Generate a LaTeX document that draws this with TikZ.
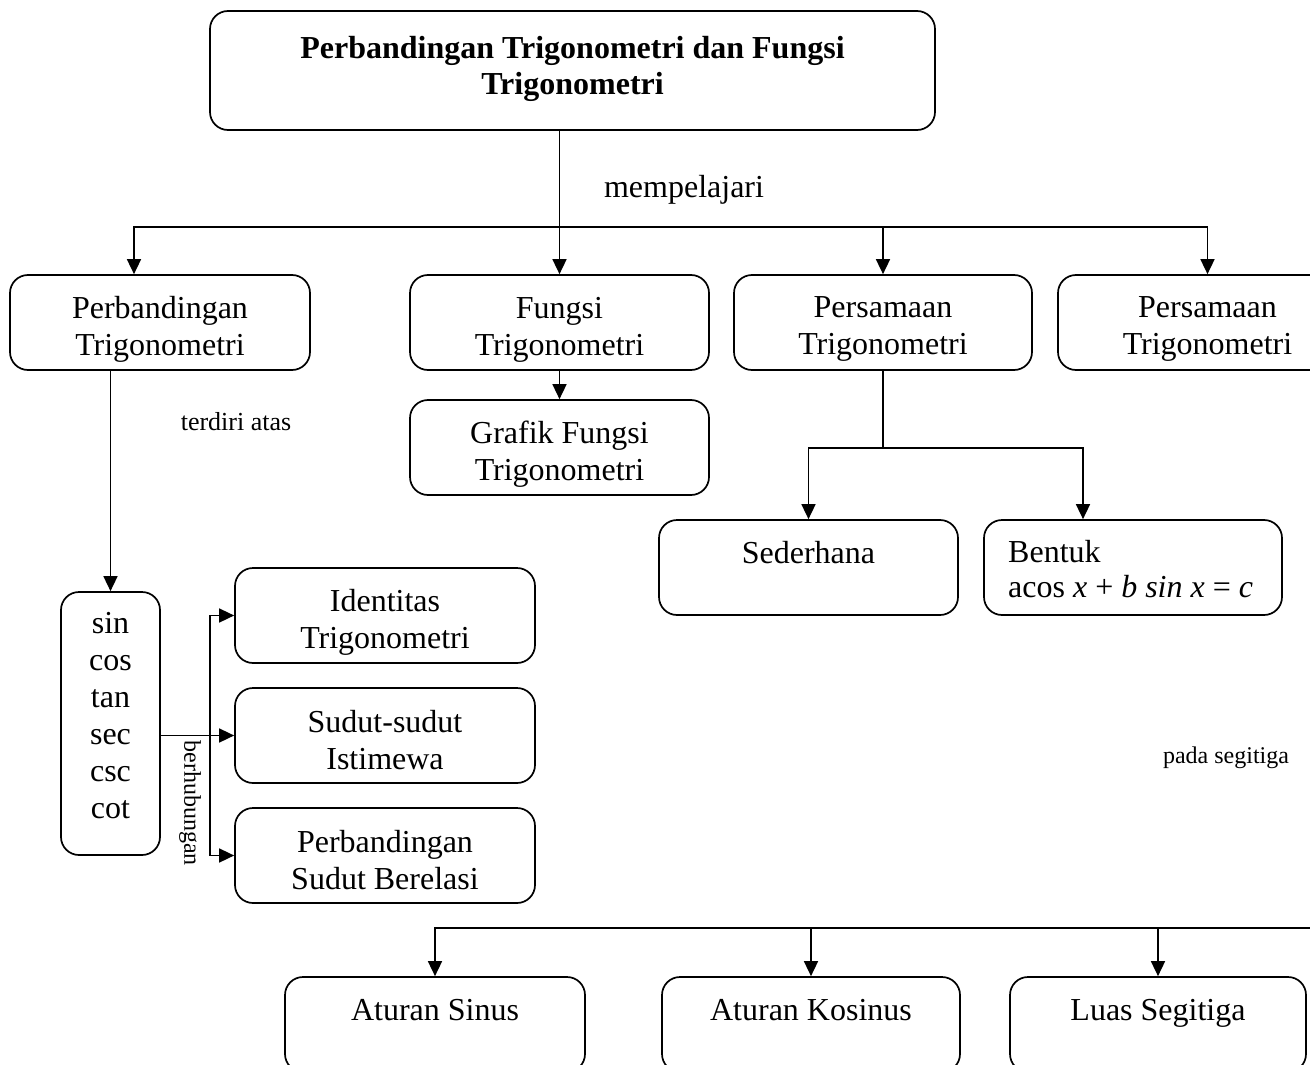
\documentclass[tikz,border=0pt]{standalone}
\usepackage{fontspec}
\setmainfont{Liberation Serif}
\usetikzlibrary{arrows.meta}
\begin{document}
\begin{tikzpicture}[x=1pt,y=-1pt,
  box/.style={draw, line width=1.7pt, rounded corners=18pt, inner sep=0pt},
  cbox/.style={box, minimum width=299pt, minimum height=95pt},
  txt/.style={font=\fontsize{32pt}{37pt}\selectfont, align=center, inner sep=0pt},
  txtone/.style={txt, text height=22pt, text depth=7pt},
  lbl/.style={font=\fontsize{24pt}{28pt}\selectfont, inner sep=0pt},
  conn/.style={line width=1.6pt},
  arr/.style={conn, -{Triangle[width=14pt,length=15pt]}},
]
\useasboundingbox (0,0) rectangle (1310,1065);
\clip (0,0) rectangle (1310,1065);
\fill[white] (0,0) rectangle (1310,1065);

% title
\node[box, minimum width=725pt, minimum height=119pt] (title) at (572.5,70.5) {};
\node[txt, font=\bfseries\fontsize{32pt}{36pt}\selectfont] (titlet) at ([yshift=1.5pt]title.center) {Perbandingan Trigonometri dan Fungsi\\Trigonometri};
\node[txt] (mp) at (684,190) {mempelajari};

% row 2
\node[cbox, minimum width=300pt] (pt) at (160,322.5) {};
\node[txt] (ptt) at ([yshift=-6.5pt]pt.center) {Perbandingan\\Trigonometri};
\node[cbox] (fun) at (559.5,322.5) {};
\node[txt] (funt) at ([yshift=-7.5pt]fun.center) {Fungsi\\Trigonometri};
\node[cbox, minimum width=298pt] (pq1) at (883,322.5) {};
\node[txt] (pq1t) at ([yshift=-6.5pt]pq1.center) {Persamaan\\Trigonometri};
\node[cbox] (pq2) at (1207.5,322.5) {};
\node[txt] (pq2t) at ([yshift=-6.5pt]pq2.center) {Persamaan\\Trigonometri};

% grafik
\node[cbox] (gr) at (559.5,447.5) {};
\node[txt] (grt) at ([yshift=-6.5pt]gr.center) {Grafik Fungsi\\Trigonometri};

\node[lbl, font=\fontsize{26pt}{30pt}\selectfont] (terd) at (236,422) {terdiri atas};

% sin box
\node[box, minimum width=99pt, minimum height=263pt] (sin) at (110.5,723.5) {};
\node[txt] (sint) at ([yshift=8pt]sin.center) {sin\\cos\\tan\\sec\\csc\\cot};

% right boxes
\node[cbox, minimum width=300pt] (id) at (385,615.5) {};
\node[txt] (idt) at ([yshift=-6.5pt]id.center) {Identitas\\Trigonometri};
\node[cbox, minimum width=300pt] (sud) at (385,735.5) {};
\node[txt] (sudt) at ([yshift=-4.5pt]sud.center) {Sudut-sudut\\Istimewa};
\node[cbox, minimum width=300pt] (ps) at (385,855.5) {};
\node[txt] (pst) at ([yshift=-4.5pt]ps.center) {Perbandingan\\Sudut Berelasi};

\node[lbl, rotate=-90] (berh) at (190,803) {berhubungan};

% persamaan children
\node[cbox] (sed) at (808.5,567.5) {};
\node[txtone] (sedt) at ([yshift=12pt]sed.center) {Sederhana};
\node[cbox, minimum width=298pt] (ben) at (1133,567.5) {};
\node[txt, align=left, anchor=west, font=\fontsize{32pt}{35pt}\selectfont] (bent) at (1008,569) {Bentuk\\acos \textit{x} + \textit{b sin x} = \textit{c}};

\node[lbl] (pada) at (1226,758) {pada segitiga};

% bottom boxes
\node[cbox, minimum width=300pt] (as) at (435,1024.5) {};
\node[txtone] (ast) at ([yshift=12pt]as.center) {Aturan Sinus};
\node[cbox, minimum width=298pt] (ak) at (811,1024.5) {};
\node[txtone] (akt) at ([yshift=12pt]ak.center) {Aturan Kosinus};
\node[cbox, minimum width=296pt] (ls) at (1158,1024.5) {};
\node[txtone] (lst) at ([yshift=12pt]ls.center) {Luas Segitiga};

% connectors: title
\coordinate (j1) at (559.5,227);
\coordinate (ptin) at ([xshift=-26pt]pt.north);
\draw[conn] (title.south -| fun.north) -- (j1);
\draw[arr] (j1) -- (fun.north);
\draw[arr] (j1) -| (ptin);
\draw[arr] (j1) -| (pq2.north);
\draw[arr] (j1 -| pq1.north) -- (pq1.north);

\draw[arr] (fun.south) -- (gr.north);

% perbandingan -> sin
\draw[arr] (pt.south -| sin.north) -- (sin.north);

% sin -> right boxes
\coordinate (v) at (210,735.5);
\draw[arr] (sin.east |- sud.west) -- (sud.west);
\draw[arr] (v) |- (id.west);
\draw[arr] (v) |- (ps.west);

% persamaan split
\coordinate (j2) at (883,448);
\coordinate (bt) at ([xshift=-50pt]ben.north);
\draw[conn] (pq1.south) -- (j2);
\draw[arr] (j2) -| (sed.north);
\draw[arr] (j2) -| (bt);

% bottom
\coordinate (j3) at (1315,928);
\draw[arr] (j3) -| (as.north);
\draw[arr] (j3 -| ak.north) -- (ak.north);
\draw[arr] (j3 -| ls.north) -- (ls.north);
\end{tikzpicture}
\end{document}
